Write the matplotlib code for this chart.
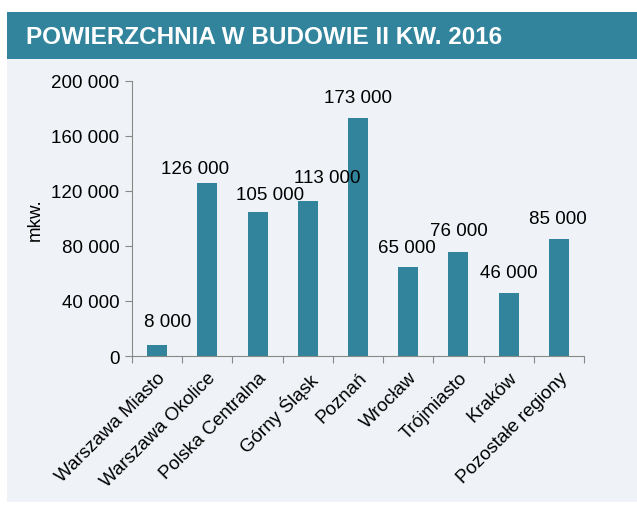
import matplotlib
matplotlib.use("Agg")
import matplotlib.pyplot as plt
from matplotlib.patches import Rectangle

categories = ["Warszawa Miasto", "Warszawa Okolice", "Polska Centralna", "Górny Śląsk",
              "Poznań", "Wrocław", "Trójmiasto", "Kraków", "Pozostałe regiony"]
values = [8000, 126000, 105000, 113000, 173000, 65000, 76000, 46000, 85000]
yticks = [0, 40000, 80000, 120000, 160000, 200000]
title = "POWIERZCHNIA W BUDOWIE II KW. 2016"
ylabel = "mkw."

# manual label nudges (pixels) as in the reference
label_dx = [11, -12, 13, 19, 0, -1, 0, 0, -1]
label_gap = [19, 10, 13, 19, 16, 15, 16, 16, 16]

teal = "#31849B"
panel = "#EFF3F7"
plt.rcParams['font.family'] = ['Liberation Sans', 'DejaVu Sans']
FS = 13.5

W, H = 637, 506
fig = plt.figure(figsize=(W/100, H/100), dpi=100)
fig.patch.set_facecolor("white")

fig.add_artist(Rectangle((7/W, 1-503/H), 630/W, 443/H, transform=fig.transFigure,
                         facecolor=panel, edgecolor="none", zorder=0))
fig.add_artist(Rectangle((7/W, 1-60/H), 630/W, 47/H, transform=fig.transFigure,
                         facecolor=teal, edgecolor="none", zorder=0))
fig.text(26/W, 1-37/H, title, color="white", fontsize=17.5, fontweight="bold",
         va="center", ha="left")

ax = fig.add_axes([132/W, 1-357/H, 452/W, 275/H])
ax.set_facecolor("none")
x = list(range(len(categories)))
ax.bar(x, values, width=0.4, color=teal, zorder=2)
px2pt = 72 / 100
for xi, v, dx, gap in zip(x, values, label_dx, label_gap):
    ax.annotate(f"{v:,}".replace(",", " "), (xi, v), xytext=(dx * px2pt, gap * px2pt),
                textcoords="offset points", ha="center", va="baseline", fontsize=FS,
                zorder=3)

ax.set_xlim(-0.5, len(categories) - 0.5)
ax.set_ylim(0, 200000)
ax.set_yticks(yticks)
ax.set_yticklabels([f"{t:,}".replace(",", " ") for t in yticks], fontsize=FS)
ax.set_xticks([i - 0.5 for i in range(len(categories) + 1)])
ax.set_xticklabels([])
ax.set_xticks(x, minor=True)
ax.set_xticklabels(categories, minor=True, rotation=45, ha="right", rotation_mode="anchor",
                   fontsize=FS)
ax.tick_params(axis="x", which="minor", length=0, pad=9)
ax.tick_params(axis="x", which="major", length=5, color="#888888")
ax.tick_params(axis="y", length=5, color="#888888", pad=4)
for s in ["top", "right"]:
    ax.spines[s].set_visible(False)
for s in ["left", "bottom"]:
    ax.spines[s].set_color("#888888")
ax.set_ylabel(ylabel, fontsize=FS)
ax.yaxis.set_label_coords(-0.195, 0.5)

fig.savefig("out.png", dpi=100)
